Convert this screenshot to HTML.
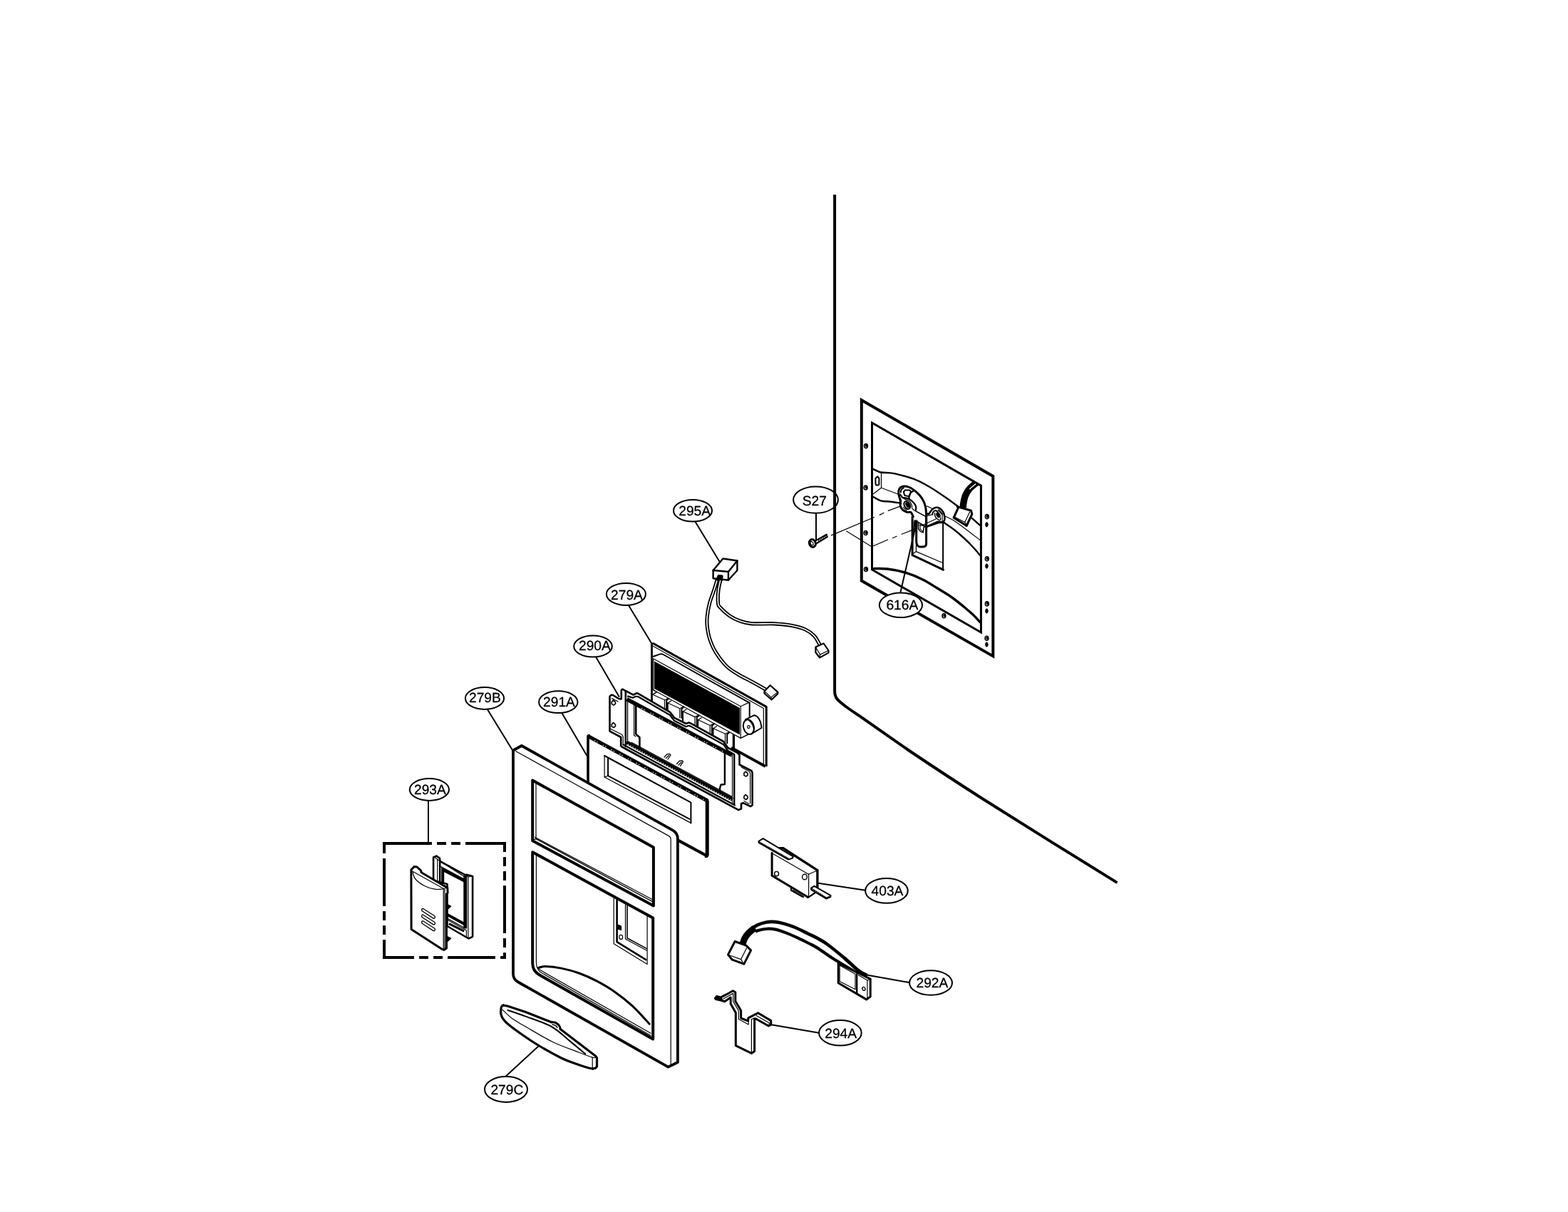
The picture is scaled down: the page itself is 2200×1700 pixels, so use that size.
<!DOCTYPE html>
<html lang="en">
<head>
<meta charset="utf-8">
<title>Dispenser Parts Diagram</title>
<style>
html,body{margin:0;padding:0;background:#fff;}
body{width:2200px;height:1700px;overflow:hidden;}
svg{display:block;will-change:transform;}
svg text{font-family:"Liberation Sans",sans-serif;font-size:19.2px;text-rendering:geometricPrecision;}
</style>
</head>
<body>
<svg width="2200" height="1700" viewBox="0 0 2200 1700">
<rect width="2200" height="1700" fill="#fff"/>
<g fill="none" stroke="#000" stroke-linecap="round" stroke-linejoin="round">
<g id="p10_door">
<path d="M1171.1 273 V969 C1171.1 979 1175 982 1186 990.5 C1192 995 1199 999.5 1206.2 1004.4 C1229 1020.5 1252 1036.5 1275 1052.5 C1310 1076 1345 1099 1380 1121.2 C1442 1160.5 1505 1199.5 1567.5 1238.1" stroke-width="4" stroke-linecap="butt"/>
</g>
<g id="p20_housing">
<path d="M1208.8 561.2 L1393.3 668 L1393.3 920.4 L1208.8 814.6Z" stroke-width="4" stroke-linejoin="miter"/>
<path d="M1223.5 593 L1376.4 681.2 L1376.4 887 L1223.5 799Z" stroke-width="3" stroke-linejoin="miter"/>
<path d="M1370 677.2 C1369.7 677.5 1369.8 677.1 1368.1 678.6 C1366.4 680.1 1362.1 683.2 1359.8 686.1 C1357.4 689 1355.5 692.6 1354.1 696.1 C1352.8 699.6 1352.1 704.5 1351.6 707.2 C1351.2 710 1351.4 711.6 1351.4 712.5" stroke-width="9.4" stroke-linecap="butt"/>
<path d="M1368.8 679 C1368 679.6 1365.7 681.4 1364.4 682.5 C1363 683.6 1361.4 685.2 1360.8 685.8" stroke-width="1.5" stroke="#fff"/>
<path d="M1343.1 710.6 L1362.5 716.2 L1363.8 721.2 L1356.2 737.5 L1338.1 726.2 L1345 711.2Z" stroke-width="3" fill="#fff"/>
<path d="M1340 725.6 L1353.8 732.5 L1360.6 718.1" stroke-width="1.2"/>
<path d="M1353.8 732.5 L1356.2 736.9" stroke-width="1.2"/>
<path d="M1225 657.8 C1226.7 658.6 1231.5 661.5 1235.6 662.5 C1239.6 663.4 1244.6 662.7 1249.3 663.4 C1253.9 664 1258.1 664.9 1263.6 666.3 C1269.1 667.7 1276.6 669.8 1282.3 671.9 C1288 674.1 1292.6 676.5 1297.8 679.3 C1303 682.1 1308.2 685.4 1313.4 688.7 C1318.6 692.1 1323.9 695.7 1329 699.3 C1334.1 702.9 1341.4 708.4 1343.9 710.3" stroke-width="2.4"/>
<path d="M1225 696.7 C1226.7 697.6 1231.4 701.1 1235.6 702.3 C1239.7 703.5 1245.3 703.1 1249.9 703.7 C1254.5 704.2 1260.8 705.4 1263 705.7" stroke-width="2.4"/>
<path d="M1236.5 664.3 L1236.5 684.2 L1225 693" stroke-width="1.2"/>
<path d="M1236.5 684.2 L1260.5 693.3" stroke-width="1.2"/>
<path d="M1231.2 668.2 L1233.4 670.9 L1233.4 679.3 L1232.5 680.5 L1229.3 680.5 L1228.4 678.6 L1228.4 670.9Z" stroke-width="2"/>
<path d="M1166.4 750.9 L1226.5 725.5" stroke-width="1.2"/>
<path d="M1234.2 722.4 L1240 719.3" stroke-width="1.2"/>
<path d="M1246.2 716.4 L1263.7 709.9" stroke-width="1.2"/>
<path d="M1187.7 745 L1223 766.8 L1245.7 757" stroke-width="1.2"/>
<path d="M1252.3 754.7 L1258 752.2" stroke-width="1.2"/>
<path d="M1265 749.3 L1282.5 742.4" stroke-width="1.2"/>
<path d="M1263.6 706.4 C1263.5 705.5 1263.4 703.3 1263 701.1 C1262.5 698.8 1261 695.5 1260.8 693 C1260.6 690.4 1260.8 687.6 1261.7 685.8 C1262.7 684 1264.3 682.7 1266.4 682.3 C1268.5 681.8 1271.5 682 1274.2 682.9 C1276.8 683.7 1279.5 685.3 1282.3 687.4 C1285.1 689.5 1288.7 692.7 1291 695.5 C1293.3 698.2 1294.8 700.9 1296.1 703.7 C1297.4 706.5 1298.2 709.3 1298.8 712.3 C1299.3 715.3 1299.4 716.4 1299.6 721.6 C1299.7 726.8 1299.6 739.8 1299.6 743.4" stroke-width="3"/>
<path d="M1275.4 697.9 C1275.8 696.8 1276.9 692.6 1277.9 691.1 C1278.9 689.6 1280.8 689.3 1281.3 688.9" stroke-width="2"/>
<path d="M1267.9 689.9 L1269.8 687.4 L1276 687.4 L1278.2 689.5 L1275.1 696.4 L1269.2 694.8Z" stroke-width="2"/>
<path d="M1263.6 690.5 C1263.8 689.9 1264.1 687.8 1264.8 686.7 C1265.6 685.7 1267.4 684.7 1267.9 684.2" stroke-width="2"/>
<path d="M1263 693.6 L1266.1 697.9 L1276 699.2" stroke-width="2"/>
<path d="M1263.6 701.7 C1263.5 703 1262.8 707.5 1263.3 709.8 C1263.8 712.1 1265.1 713.9 1266.7 715.4 C1268.3 716.8 1271.1 718 1272.9 718.5 C1274.8 719 1276.5 717.5 1277.9 718.5 C1279.3 719.5 1280.8 723.7 1281.3 724.7" stroke-width="3"/>
<path d="M1266.1 697.9 C1267.5 698.3 1272.2 698.7 1274.8 699.8 C1277.4 701 1279.9 703 1281.6 704.8 C1283.4 706.6 1284.5 708.5 1285.1 710.4 C1285.6 712.3 1284.8 715.1 1284.8 716" stroke-width="2.2"/>
<path d="M1268.6 699.8 C1269.8 700.3 1274.3 701.5 1276 702.9 C1277.8 704.4 1278.5 706.9 1279.2 708.5 C1279.8 710.2 1279.3 711.7 1279.8 712.9 C1280.3 714 1281.9 715 1282.3 715.4" stroke-width="1.2"/>
<ellipse cx="1272.8" cy="708.5" rx="3.9" ry="5.9" stroke-width="2" transform="rotate(-28 1272.8 708.5)"/>
<ellipse cx="1273.5" cy="708.2" rx="1.7" ry="3.4" stroke-width="2" fill="#000" transform="rotate(-28 1273.5 708.2)"/>
<path d="M1267.3 711.6 L1271.7 716" stroke-width="1.2"/>
<path d="M1268.6 709.8 L1272.9 714.8" stroke-width="1.2"/>
<path d="M1282.3 715.4 L1297.8 724.1 L1308.4 721.6" stroke-width="1.2"/>
<path d="M1284.8 716.9 L1297.2 723.5" stroke-width="1.2"/>
<path d="M1300.3 709.8 L1308.4 713.5" stroke-width="1.2"/>
<path d="M1300 720.4 C1300.6 720.4 1302.2 721.2 1303.4 720.4 C1304.6 719.5 1305.7 716.8 1307.2 715.4 C1308.6 714 1310.4 712.4 1312.2 712 C1313.9 711.5 1315.9 711.5 1317.8 712.6 C1319.6 713.6 1322.1 716.2 1323.4 718.2 C1324.6 720.2 1325.1 722.7 1325.4 724.7 C1325.6 726.7 1325.5 729 1324.9 730.3 C1324.4 731.6 1322.6 732.1 1322.1 732.5" stroke-width="2.5"/>
<path d="M1308.4 721.6 C1308.5 721.1 1308.3 719.4 1309 718.5 C1309.8 717.6 1311.6 716 1312.8 716 C1313.9 716 1315.4 718.1 1315.9 718.5" stroke-width="2"/>
<ellipse cx="1316.5" cy="722.5" rx="1.9" ry="3.1" stroke-width="2" fill="#000" transform="rotate(-28 1316.5 722.5)"/>
<path d="M1311.5 719.7 C1311.6 720.6 1311.4 723.3 1312.2 724.7 C1312.9 726.2 1314.7 727.6 1315.9 728.5 C1317 729.3 1318.4 730 1319 729.7 C1319.6 729.4 1319.5 727.1 1319.6 726.6" stroke-width="1.5"/>
<path d="M1315.9 715.4 L1322.1 722.2 L1322.1 730.9" stroke-width="1.2"/>
<path d="M1317.1 714.8 L1322.7 721" stroke-width="1.2"/>
<path d="M1322.1 732.5 L1315.9 731.6 L1300.3 738.7 L1297.8 737.8" stroke-width="2.4"/>
<path d="M1298.8 724.7 L1298.8 737.2" stroke-width="1.2"/>
<path d="M1295.3 736.2 L1313.4 727.8" stroke-width="1.2"/>
<path d="M1286 730.9 L1297.8 737.8" stroke-width="1.2"/>
<path d="M1324 732.8 C1326.7 734.7 1334.7 739.8 1340 744 C1345.3 748.2 1351.3 753.6 1356 758 C1360.7 762.4 1364.8 767 1368 770.5 C1371.2 774 1373.8 777.6 1375 779" stroke-width="2.4"/>
<path d="M1325 723.5 C1327.2 724.6 1333.8 727.5 1338.3 730.3 C1342.8 733 1345.9 735.5 1352 740 C1358.1 744.5 1371.2 754.6 1375 757.5" stroke-width="1.2"/>
<path d="M1280.1 725 L1280.1 778.6 L1323.4 799.1" stroke-width="3" stroke-linejoin="miter"/>
<path d="M1323.1 733.1 L1323.1 799.7" stroke-width="2"/>
<path d="M1284.9 729.4 L1284.9 739.3" stroke-width="5" stroke-linecap="butt"/>
<path d="M1282.9 732.5 L1281.3 750.5" stroke-width="1.5"/>
<path d="M1285.4 764.9 L1285.4 773.6 L1322.1 789.2" stroke-width="1.2"/>
<path d="M1285.4 773.6 L1281 776.7" stroke-width="1.2"/>
<path d="M1285.7 739.3 L1285.7 759.9 C1286 764.9 1287.9 766.7 1290.4 766.9 L1296 766.9 C1298.5 766.4 1299.6 764.9 1299.6 763 L1299.6 723.8" stroke-width="3"/>
<path d="M1288.5 733.7 L1288.5 741.8 L1291.6 745.6 L1295.3 746.8 L1296.3 737.5 L1290.4 736.2" stroke-width="1.5"/>
<path d="M1291 736.2 L1291 741.8 L1294.7 745.6" stroke-width="1.2"/>
<path d="M1287.2 731.9 L1297.2 738.1" stroke-width="1.2"/>
<path d="M1298.8 726.3 L1298.8 736.2" stroke-width="1.2"/>
<path d="M1297.8 738.7 L1300.9 738.7 L1317.1 733.1 L1324.6 733.1" stroke-width="2.4"/>
<path d="M1225 797.6 C1228.3 797.7 1237.5 797.1 1245 798 C1252.5 798.9 1261.5 800.5 1269.8 803 C1278.1 805.5 1287.2 809.3 1294.7 813 C1302.2 816.7 1308.3 820.9 1315 825 C1321.7 829.1 1328.8 833.1 1335 837.5 C1341.2 841.9 1347.5 847.1 1352.5 851.2 C1357.5 855.3 1361.2 858.5 1365 862 C1368.8 865.5 1373.3 870.8 1375 872.5" stroke-width="3.4"/>
<path d="M1363.8 726.9 L1375 736.9" stroke-width="2.4"/>
<ellipse cx="1215" cy="625.6" rx="2.4" ry="3" stroke-width="1.6"/>
<ellipse cx="1215.5" cy="625.3" rx="1.2" ry="1.5" stroke-width="1" fill="#000"/>
<ellipse cx="1214.6" cy="684" rx="2.4" ry="3" stroke-width="1.6"/>
<ellipse cx="1215.1" cy="683.7" rx="1.2" ry="1.5" stroke-width="1" fill="#000"/>
<ellipse cx="1214.6" cy="747.5" rx="2.4" ry="3" stroke-width="1.6"/>
<ellipse cx="1215.1" cy="747.2" rx="1.2" ry="1.5" stroke-width="1" fill="#000"/>
<ellipse cx="1215" cy="798.5" rx="2.4" ry="3" stroke-width="1.6"/>
<ellipse cx="1215.5" cy="798.2" rx="1.2" ry="1.5" stroke-width="1" fill="#000"/>
<ellipse cx="1324.4" cy="863.8" rx="2.4" ry="3" stroke-width="1.6"/>
<ellipse cx="1324.9" cy="863.5" rx="1.2" ry="1.5" stroke-width="1" fill="#000"/>
<ellipse cx="1384.8" cy="724.6" rx="2.4" ry="3" stroke-width="1.6"/>
<ellipse cx="1385.3" cy="724.3" rx="1.2" ry="1.5" stroke-width="1" fill="#000"/>
<ellipse cx="1384.8" cy="783.8" rx="2.4" ry="3" stroke-width="1.6"/>
<ellipse cx="1385.3" cy="783.5" rx="1.2" ry="1.5" stroke-width="1" fill="#000"/>
<ellipse cx="1384.8" cy="846.9" rx="2.4" ry="3" stroke-width="1.6"/>
<ellipse cx="1385.3" cy="846.6" rx="1.2" ry="1.5" stroke-width="1" fill="#000"/>
<ellipse cx="1384.5" cy="895.2" rx="2.4" ry="3" stroke-width="1.6"/>
<ellipse cx="1385" cy="894.9" rx="1.2" ry="1.5" stroke-width="1" fill="#000"/>
<ellipse cx="1384.4" cy="735.8" rx="1.7" ry="3.2" stroke-width="1" fill="#000"/>
<ellipse cx="1384.4" cy="794" rx="1.7" ry="3.2" stroke-width="1" fill="#000"/>
<ellipse cx="1384.4" cy="857" rx="1.7" ry="3.2" stroke-width="1" fill="#000"/>
<ellipse cx="1384.4" cy="904" rx="1.7" ry="3.2" stroke-width="1" fill="#000"/>
</g>
<g id="p30_screw">
<ellipse cx="1139.9" cy="762" rx="4.4" ry="5.5" stroke-width="3" transform="rotate(-20 1139.9 762)"/>
<ellipse cx="1139.1" cy="762.2" rx="1.7" ry="2.8" stroke-width="1.2" transform="rotate(-25 1139.1 762.2)"/>
<path d="M1144.8 758.1 L1159.8 749.7" stroke-width="2.2"/>
<path d="M1146.4 761.8 L1160.7 753.1" stroke-width="2.2"/>
<path d="M1159.8 749.7 L1160.7 753.1" stroke-width="1.5"/>
<path d="M1147.9 756.6 L1149.3 759.7" stroke-width="1.3"/>
<path d="M1150.2 755.2 L1151.6 758.4" stroke-width="1.3"/>
<path d="M1152.4 753.9 L1153.8 757" stroke-width="1.3"/>
<path d="M1154.7 752.6 L1156 755.7" stroke-width="1.3"/>
<path d="M1156.9 751.3 L1158.3 754.4" stroke-width="1.3"/>
<path d="M1159.2 750 L1160.5 753.1" stroke-width="1.3"/>
</g>
<g id="p40_harness295">
<path d="M1006.9 811 C1006.1 813.8 1003.8 821.6 1001.9 827.5 C1000 833.4 997.2 840 995.6 846.2 C994 852.5 992.7 859.4 992.2 865 C991.7 870.6 991.7 874.6 992.4 880 C993.1 885.4 994.1 891.5 996.2 897.5 C998.3 903.5 1001 910 1005 916.2 C1009 922.5 1014.8 930 1020 935 C1025.2 940 1030.4 942.7 1036.2 946.2 C1042 949.7 1048.5 952.7 1055 956.2 C1061.5 959.8 1071.7 965.6 1075 967.5" stroke-width="5.2" stroke-linecap="butt"/>
<path d="M1006.9 811 C1006.1 813.8 1003.8 821.6 1001.9 827.5 C1000 833.4 997.2 840 995.6 846.2 C994 852.5 992.7 859.4 992.2 865 C991.7 870.6 991.7 874.6 992.4 880 C993.1 885.4 994.1 891.5 996.2 897.5 C998.3 903.5 1001 910 1005 916.2 C1009 922.5 1014.8 930 1020 935 C1025.2 940 1030.4 942.7 1036.2 946.2 C1042 949.7 1048.5 952.7 1055 956.2 C1061.5 959.8 1071.7 965.6 1075 967.5" stroke-width="1.6" stroke-linecap="butt" stroke="#fff"/>
<path d="M1011.5 811 C1010.9 813.8 1008.7 821.6 1008 827.5 C1007.3 833.4 1007.1 842.1 1007.5 846.2 C1007.9 850.3 1007.8 849.1 1010.5 852 C1013.2 854.9 1019.1 860.6 1023.8 863.8 C1028.5 867 1033.6 869.4 1038.8 871.2 C1044 873 1047.1 874.2 1055 874.8 C1062.9 875.4 1076.8 874.3 1086.2 874.8 C1095.6 875.2 1103.9 876.1 1111.2 877.5 C1118.5 878.9 1124.8 880.6 1130 883 C1135.2 885.4 1139.1 888.3 1142.5 892 C1145.9 895.7 1149.2 902.8 1150.5 905" stroke-width="5.2" stroke-linecap="butt"/>
<path d="M1011.5 811 C1010.9 813.8 1008.7 821.6 1008 827.5 C1007.3 833.4 1007.1 842.1 1007.5 846.2 C1007.9 850.3 1007.8 849.1 1010.5 852 C1013.2 854.9 1019.1 860.6 1023.8 863.8 C1028.5 867 1033.6 869.4 1038.8 871.2 C1044 873 1047.1 874.2 1055 874.8 C1062.9 875.4 1076.8 874.3 1086.2 874.8 C1095.6 875.2 1103.9 876.1 1111.2 877.5 C1118.5 878.9 1124.8 880.6 1130 883 C1135.2 885.4 1139.1 888.3 1142.5 892 C1145.9 895.7 1149.2 902.8 1150.5 905" stroke-width="1.6" stroke-linecap="butt" stroke="#fff"/>
<path d="M1000.6 800 L1014.4 783.5 L1034.4 786.5 L1034.4 800 L1021.9 813.8 L1000.6 811.2Z" stroke-width="2.4" fill="#fff"/>
<path d="M1000.6 800 L1021.9 801.9 L1021.9 813.8" stroke-width="2.4"/>
<path d="M1021.9 801.9 L1034.4 786.5" stroke-width="2.4"/>
<path d="M1006.2 813.1 L1008.1 807.5 L1013.1 808.1 L1012.5 813.8" stroke-width="3" fill="#000"/>
<path d="M1072.5 969.4 L1080.6 961.2 L1091.2 970.6 L1091.2 973.1 L1082.5 981.5 L1072.5 972.5Z" stroke-width="2.2" fill="#fff"/>
<path d="M1072.5 969.4 L1081.9 978.1 L1091.2 970.6" stroke-width="1.2"/>
<path d="M1081.9 978.1 L1082.5 981.5" stroke-width="1.2"/>
<path d="M1144.4 907.5 L1155.6 902.5 L1162.5 912.5 L1162.5 915.6 L1150 922.5 L1144.4 915Z" stroke-width="2.2" fill="#fff"/>
<path d="M1144.4 907.5 L1150.6 918.1 L1162.5 912.5" stroke-width="1.2"/>
<path d="M1150.6 918.1 L1150 922.5" stroke-width="1.2"/>
</g>
<g id="p50_pcb279a">
<path d="M914.5 903 L1075.2 991.4 L1075.2 1074.5 L914.5 985Z" stroke="none" fill="#fff"/>
<path d="M914.5 984 L914.5 904.5 Q914.5 902.2 917 902.6" stroke-width="2.8" stroke-linecap="butt"/>
<path d="M916.5 902.5 L1075.2 991.4" stroke-width="3.1" stroke-linecap="butt"/>
<path d="M1075.2 990.5 L1075.2 1075" stroke-width="3" stroke-linecap="butt"/>
<path d="M916.3 906.3 L1071.3 993.6 L1071.3 1074" stroke-width="1.2"/>
<path d="M1074 1075 L1026 1048.6" stroke-width="3.8" stroke-linecap="butt"/>
<path d="M916.8 920.8 L925.6 917.6 Q928 916.6 930.5 918 L1050.8 985.4" stroke-width="2"/>
<path d="M916.8 924 L1039.2 990.8 L1050.8 985.4" stroke-width="1.2"/>
<path d="M916.8 924 L916.8 967.8 L1039.2 1035.4 L1039.2 990.8" stroke-width="1.2"/>
<path d="M1051.7 985.4 L1051.7 1008" stroke-width="2"/>
<path d="M1039.2 1035.4 L1050 1030" stroke-width="1.4"/>
<path d="M918.1 927.4 L1037.9 992.9 L1037.9 1030.4 L918.1 966Z" stroke="none" fill="#000"/>
<path d="M915.8 974.2 L932.5 981.8 L932.5 995" stroke-width="1.2"/>
<path d="M915.8 974.2 L920.4 971.2" stroke-width="1.2"/>
<path d="M932.5 981.8 L938.2 979.2" stroke-width="1.2"/>
<path d="M938.2 979.7 L935.2 982.5 L935.2 995" stroke-width="2"/>
<path d="M937.1 986 L953.8 993.7 L953.8 1006.9" stroke-width="1.2"/>
<path d="M937.1 986 L941.7 983" stroke-width="1.2"/>
<path d="M953.8 993.7 L959.4 991" stroke-width="1.2"/>
<path d="M959.4 991.5 L956.4 994.4 L956.4 1006.9" stroke-width="2"/>
<path d="M936.8 986 L936.8 1006" stroke-width="2"/>
<path d="M958.3 997.9 L975 1005.6 L975 1018.8" stroke-width="1.2"/>
<path d="M958.3 997.9 L962.9 994.9" stroke-width="1.2"/>
<path d="M975 1005.6 L980.7 1002.9" stroke-width="1.2"/>
<path d="M980.7 1003.4 L977.7 1006.2 L977.7 1018.8" stroke-width="2"/>
<path d="M958 997.9 L958 1017.9" stroke-width="2"/>
<path d="M979.6 1009.8 L996.2 1017.5 L996.2 1030.6" stroke-width="1.2"/>
<path d="M979.6 1009.8 L984.2 1006.8" stroke-width="1.2"/>
<path d="M996.2 1017.5 L1001.9 1014.8" stroke-width="1.2"/>
<path d="M1001.9 1015.3 L998.9 1018.1 L998.9 1030.6" stroke-width="2"/>
<path d="M979.2 1009.8 L979.2 1029.8" stroke-width="2"/>
<path d="M1000.8 1021.7 L1017.5 1029.3 L1017.5 1042.5" stroke-width="1.2"/>
<path d="M1000.8 1021.7 L1005.4 1018.7" stroke-width="1.2"/>
<path d="M1017.5 1029.3 L1023.2 1026.7" stroke-width="1.2"/>
<path d="M1023.2 1027.2 L1020.2 1030 L1020.2 1042.5" stroke-width="2"/>
<path d="M1000.5 1021.7 L1000.5 1041.7" stroke-width="2"/>
<path d="M1028.3 1030 L1028.3 1050.8" stroke-width="1.2"/>
<path d="M1030 1031.7 L1030 1050.8" stroke-width="2"/>
<path d="M915.8 967.5 L921.7 970.8 L917.5 972.9" stroke-width="1.2"/>
<path d="M1045.8 1009.3 L1058.2 1003.2 C1062.9 1003.8 1067.9 1010 1068.5 1021 L1054.2 1029.4" stroke-width="2" fill="#fff"/>
<ellipse cx="1050.4" cy="1019.6" rx="7.3" ry="10.5" stroke-width="2" fill="#fff" transform="rotate(-14 1050.4 1019.6)"/>
<path d="M1050.4 1010.2 C1055.4 1013.8 1058.5 1020.8 1057.5 1027.3" stroke-width="1.2"/>
<ellipse cx="1050.4" cy="1019.6" rx="1.7" ry="2" stroke-width="1.2"/>
</g>
<g id="p55_frame290a">
<path d="M855.5 976.8 L857.5 974.8 L860 975 L868 980 L871.8 980.5 L871.8 968.2 L873.3 966.6 L888.6 974.6 L893 972.3 L895 972.6 L940 998.8 L946.2 1006.9 L962.5 1015 L966.2 1013.6 L968.8 1014.4 L1015 1040 L1021.2 1048.8 L1035 1056.2 L1037.5 1058.8 L1037.5 1072.5 L1054.5 1081.2 L1055.6 1084 L1055.6 1129.5 L1053 1131.2 L1042.5 1126.2 L1040 1127.5 L1040 1134.4 L1036.2 1136.2 L872.5 1047.5 L871.2 1046.2 L871.2 1034 L855.5 1025.6Z" stroke-width="2.6" fill="#fff"/>
<path d="M881 976.6 L888 978.8 L892 976.8 L895 977 L940 1003 L946.2 1011.1 L962.5 1019.2 L966.2 1017.8 L968.8 1018.6 L1015 1044.2 L1021.2 1053 L1030 1058" stroke-width="2.2"/>
<path d="M858.5 979.6 L867 984" stroke-width="1.2"/>
<path d="M857 1022.5 L872.8 1030.5 L874.2 1033.5 L874.2 1045" stroke-width="1.2"/>
<path d="M1040 1076 L1051.5 1082.3 L1052.6 1085 L1052.6 1127" stroke-width="1.2"/>
<path d="M1044 1123.6 L1050.8 1127.4" stroke-width="1.2"/>
<path d="M877.8 969.5 L877.8 1047" stroke-width="2.6"/>
<path d="M880.6 981.5 L880.6 1040" stroke-width="1.2"/>
<path d="M889.6 986 L889.6 1031.6 L892 1033" stroke-width="1.2"/>
<path d="M892.2 990 L892.2 1029.8 L897.4 1034.2 L897.4 1049" stroke-width="2.6"/>
<path d="M879.5 980.8 L1027.5 1059.6" stroke-width="5.6" stroke-linecap="butt"/>
<path d="M900 993.2 L1027.5 1061" stroke-width="1.1" stroke-linecap="butt" stroke="#fff" stroke-dasharray="1.5 2.2 1.5 9"/>
<path d="M1016.9 1053.5 L1016.9 1100 L1011.4 1100.8 L1010 1105.8 L1010 1110" stroke-width="2.4"/>
<path d="M1027.5 1058.8 L1027.5 1126" stroke-width="1.2"/>
<path d="M1030.2 1058.8 L1030.2 1128" stroke-width="2.4"/>
<path d="M879 1041 L1027.5 1121.4" stroke-width="5.2" stroke-linecap="butt"/>
<path d="M881 1044 L1027.5 1123.4" stroke-width="1.1" stroke-linecap="butt" stroke="#fff" stroke-dasharray="1.5 2.2"/>
<path d="M879 1046.8 L1028 1127.4" stroke-width="1.2"/>
<path d="M886 1041.2 L1027 1117.4" stroke-width="1.2"/>
<path d="M874.5 1044.5 L1031 1129.6" stroke-width="2"/>
<path d="M860.6 982.2 L863.5 984.8 L863.5 987.2 L861.2 989 L858.3 987.6 L858.3 984.4Z" stroke-width="1.6"/>
<path d="M860.6 1013.7 L863.5 1016.3 L863.5 1018.7 L861.2 1020.5 L858.3 1019.1 L858.3 1015.9Z" stroke-width="1.6"/>
<path d="M1046.2 1082.2 L1049.1 1084.8 L1049.1 1087.2 L1046.8 1089 L1043.9 1087.6 L1043.9 1084.4Z" stroke-width="1.6"/>
<path d="M1046.2 1114.7 L1049.1 1117.3 L1049.1 1119.7 L1046.8 1121.5 L1043.9 1120.1 L1043.9 1116.9Z" stroke-width="1.6"/>
<path d="M932 1062 L936 1057.8 L939.5 1057.4 L941 1059 L937 1065" stroke-width="1.3"/>
<path d="M934.5 1063.5 L938.5 1059.5" stroke-width="1.3"/>
<path d="M949.5 1071.5 L953.5 1067.2 L957 1066.8 L958.5 1068.4 L954.5 1074.4" stroke-width="1.3"/>
<path d="M952 1073 L956 1069" stroke-width="1.3"/>
</g>
<g id="p60_panel291a">
<path d="M825 1031.9 L992.2 1122.5 L992.2 1200.6 L825 1110Z" stroke="none" fill="#fff"/>
<path d="M825 1112 L825 1033.5 Q825 1031 827.5 1032" stroke-width="3.6" stroke-linecap="butt"/>
<path d="M826 1033 L993 1123.4" stroke-width="5.4" stroke-linecap="butt"/>
<path d="M834 1038.6 L990 1123" stroke-width="1.1" stroke-linecap="butt" stroke="#fff" stroke-dasharray="1.5 2.3 1.5 8"/>
<path d="M992.2 1122.4 L992.2 1199 Q992.2 1201.5 989.5 1200.2" stroke-width="5" stroke-linecap="butt"/>
<path d="M992.8 1201 L950 1177.8" stroke-width="4.2" stroke-linecap="butt"/>
<path d="M848.1 1060 L969.4 1125.6 L969.4 1154.4" stroke-width="2"/>
<path d="M848.1 1060 L848.1 1090 L969.4 1154.4" stroke-width="1.2"/>
<path d="M853.1 1063.5 L853.1 1088.1 L967.5 1148.8" stroke-width="2"/>
<path d="M848.1 1090 L853.1 1088.1" stroke-width="1.2"/>
</g>
<g id="p65_cover279b">
<path d="M720 1052.5 L731.9 1046 L945 1165 Q950.9 1168.5 950.9 1176 L950.9 1490 L937.5 1496.6 L726 1377 Q720 1373.5 720 1367Z" stroke="none" fill="#fff"/>
<path d="M720 1052.5 L720 1366 Q720 1373.5 727 1377.5 L937.5 1496.6 L950.9 1490 L950.9 1177 Q950.9 1168.6 944 1164.6 L731.9 1046 L720 1052.5Z" stroke-width="3.8"/>
<path d="M723.8 1053.8 L938.5 1172.6 Q941.2 1174.2 941.2 1178 L941.2 1494.5" stroke-width="1.2"/>
<path d="M747.2 1094.6 L916.9 1188.6 L916.9 1270.4 L747.2 1179.2Z" stroke-width="4"/>
<path d="M752 1098 L752 1176.6 L915 1264.4" stroke-width="1.2"/>
<path d="M749.5 1177.6 L752 1176.6" stroke-width="1.2"/>
<path d="M750.5 1174.4 L915 1261.5" stroke-width="1.2"/>
<path d="M747.2 1195.2 L916.2 1287.6 L916.2 1457.6 L757 1367.5 Q747.2 1362 747.2 1351Z" stroke-width="4"/>
<path d="M752.4 1200 L752.4 1350 Q752.6 1360.5 760 1364.6 L913 1452.6" stroke-width="1.2"/>
<path d="M754 1357 Q755.6 1359.6 760 1361.8 L913 1449.2" stroke-width="1.2"/>
<path d="M755.6 1357.5 C757.2 1357.2 759.7 1355.5 765 1355.6 C770.3 1355.7 779.6 1356.5 787.5 1358.1 C795.4 1359.7 804.2 1362 812.5 1365 C820.8 1368 829.2 1371.8 837.5 1376.2 C845.8 1380.6 854.2 1385.4 862.5 1391.2 C870.8 1397 879.4 1403.7 887.5 1411.2 C895.6 1418.7 907.2 1432 911.2 1436.2" stroke-width="3"/>
<path d="M861.2 1260 L861.2 1323.8 L908.1 1352.5 L908.1 1283" stroke-width="1.2"/>
<path d="M865.6 1262.5 L865.6 1321.2 L906.2 1346.2" stroke-width="2.6"/>
<path d="M877.5 1269 L877.5 1317 L907.5 1333.2" stroke-width="1.2"/>
<path d="M880 1270.5 L880 1315.8 L907.5 1330.6" stroke-width="1.6"/>
<path d="M866.5 1297 L871.5 1299 L871.5 1304.5 L866.5 1303Z" stroke-width="1.2" fill="#000"/>
<ellipse cx="871.2" cy="1314.4" rx="2.4" ry="3" stroke-width="1.2"/>
</g>
<g id="p70_tray279c">
<path d="M831.9 1499 C830.7 1498.8 829.3 1499 825 1497.8 C820.7 1496.5 812.5 1493.8 806.2 1491.5 C800 1489.2 795.6 1488 787.5 1484 C779.4 1480 766.9 1473.1 757.5 1467.5 C748.1 1461.9 738.8 1455.5 731.2 1450.2 C723.8 1445 716.8 1439.8 712.5 1436.2 C708.2 1432.7 707.2 1430.9 705.6 1428.8 C704.1 1426.6 703.6 1425.2 703.1 1423.1 C702.6 1421 702.6 1418.1 702.8 1416.2 C702.9 1414.4 703.2 1412.9 703.8 1411.9 C704.3 1410.8 705.8 1410.3 706.2 1410" stroke-width="3.2"/>
<path d="M706.2 1410 L712.5 1411.2 L737.5 1419.6 L773.8 1433.8" stroke-width="3.2"/>
<path d="M773.8 1433.8 C774.5 1433.8 776.7 1433.5 778.1 1434 C779.6 1434.5 781.3 1435.5 782.5 1436.5 C783.7 1437.5 784.6 1438.6 785.2 1439.8 C785.9 1440.9 786.1 1442.9 786.2 1443.5" stroke-width="3"/>
<path d="M786.2 1443.5 L836 1481.6 L837.5 1483.8 L837.5 1496 L835.6 1498.1 L831.9 1499" stroke-width="3.2"/>
<path d="M712.5 1416.9 C716.7 1418.3 727.3 1421.8 737.5 1425.6 C747.7 1429.5 763.3 1434.2 773.8 1440 C784.2 1445.8 792.1 1454.3 800 1460.6 C807.9 1467 817.7 1475.2 821.2 1478.1" stroke-width="2"/>
<path d="M705 1416.2 C707.3 1418.3 713.3 1424.8 718.8 1428.8 C724.2 1432.7 728.1 1434.6 737.5 1440 C746.9 1445.4 762.5 1455.2 775 1461.2 C787.5 1467.3 803.1 1472.6 812.5 1476.2 C821.9 1479.9 827.3 1482 831.2 1483.1 C835.2 1484.2 835.4 1482.8 836.2 1482.8" stroke-width="1.2"/>
<path d="M831.2 1483.5 L831.2 1497.5" stroke-width="1.2"/>
<path d="M775 1436.9 C775.8 1437.2 778.9 1438 780 1438.8 C781.1 1439.5 781.6 1440.8 781.9 1441.2" stroke-width="1.5"/>
</g>
<g id="p75_box293a">
<path d="M537.1 1183 L606 1183" stroke-width="4" stroke-linecap="butt"/>
<path d="M613.1 1183 L626 1183" stroke-width="4" stroke-linecap="butt"/>
<path d="M633.1 1183 L646 1183" stroke-width="4" stroke-linecap="butt"/>
<path d="M653.1 1183 L710 1183" stroke-width="4" stroke-linecap="butt"/>
<path d="M537.1 1343 L581 1343" stroke-width="4" stroke-linecap="butt"/>
<path d="M588.1 1343 L601 1343" stroke-width="4" stroke-linecap="butt"/>
<path d="M608.1 1343 L621 1343" stroke-width="4" stroke-linecap="butt"/>
<path d="M628.1 1343 L695 1343" stroke-width="4" stroke-linecap="butt"/>
<path d="M702.1 1343 L710 1343" stroke-width="4" stroke-linecap="butt"/>
<path d="M539.1 1181 L539.1 1196.9" stroke-width="4" stroke-linecap="butt"/>
<path d="M539.1 1204 L539.1 1271" stroke-width="4" stroke-linecap="butt"/>
<path d="M539.1 1278.1 L539.1 1291" stroke-width="4" stroke-linecap="butt"/>
<path d="M539.1 1298.1 L539.1 1311" stroke-width="4" stroke-linecap="butt"/>
<path d="M539.1 1318.1 L539.1 1345" stroke-width="4" stroke-linecap="butt"/>
<path d="M708 1181 L708 1195" stroke-width="4" stroke-linecap="butt"/>
<path d="M708 1202.1 L708 1215" stroke-width="4" stroke-linecap="butt"/>
<path d="M708 1222.1 L708 1235" stroke-width="4" stroke-linecap="butt"/>
<path d="M708 1242.1 L708 1309" stroke-width="4" stroke-linecap="butt"/>
<path d="M708 1316 L708 1329" stroke-width="4" stroke-linecap="butt"/>
<path d="M708 1336.2 L708 1345" stroke-width="4" stroke-linecap="butt"/>
<path d="M608.1 1202.5 L612.5 1200.6 L616.9 1203.8 L617.5 1208.1 L652.5 1227.2 L655 1226.9 L663.1 1229 L663.1 1313.8 L657.5 1316.5 L627.5 1299 L627.5 1240 L608.1 1235Z" stroke-width="2.6" fill="#fff"/>
<path d="M613.8 1205 L613.8 1236.9" stroke-width="1.2"/>
<path d="M617.2 1208.1 L617.2 1238.8" stroke-width="2.4"/>
<path d="M610.6 1203.1 L615 1206.2 L651.9 1230" stroke-width="1.2"/>
<path d="M616.2 1214.4 L651.2 1233.1" stroke-width="1.2"/>
<path d="M621.2 1240 L621.2 1220 L651.9 1235.6" stroke-width="4" stroke-linejoin="miter" stroke-linecap="butt"/>
<path d="M652.8 1228.1 L652.8 1302.5" stroke-width="5" stroke-linecap="butt"/>
<path d="M656.9 1230 L656.9 1315" stroke-width="1.2"/>
<path d="M654.4 1227.5 L656.9 1230 L663.1 1229" stroke-width="1.2"/>
<path d="M626.9 1282.5 L651.9 1296.2" stroke-width="4" stroke-linecap="butt"/>
<path d="M627.5 1288.1 L651.2 1301.2" stroke-width="1.2"/>
<path d="M627.5 1290 L654.4 1305 L654.4 1314.4" stroke-width="1.2"/>
<path d="M630 1295.6 L651.2 1306.2" stroke-width="3" stroke-linecap="butt"/>
<path d="M627.5 1268.8 L632.5 1271.2 L627.5 1275.6" stroke-width="1.5" fill="#000"/>
<path d="M627.5 1313.8 L632.5 1316.2 L627.5 1320.6" stroke-width="1.5" fill="#000"/>
<path d="M576.9 1220 L581.2 1215.6 L585 1216 L590.6 1221.2 L591.2 1223.8 L622.5 1242.2 L627.8 1245 L628.1 1252.5 L626.5 1254 L626.5 1330 L622.8 1332.5 L620 1331.2 L577.1 1303.5Z" stroke-width="3" fill="#fff"/>
<path d="M578.5 1221.9 L622.5 1246.5 L627.5 1245.2" stroke-width="1.2"/>
<path d="M622.2 1246.9 L622.2 1331.2" stroke-width="1.2"/>
<path d="M624 1247.5 L624 1330.6" stroke-width="1.2"/>
<path d="M579 1222.8 C579.6 1224.4 579.8 1229.2 582.5 1232.5 C585.2 1235.8 590.4 1239.8 595 1242.2 C599.6 1244.7 605.5 1246.5 610 1247.2 C614.5 1248 619.9 1247 621.9 1247" stroke-width="1.2"/>
<path d="M592.2 1274.5 L593.8 1274.5 L609.8 1284.8 L610.5 1286.2 L609.8 1288.1 L608.1 1288.1 L592.2 1277.8 L591.5 1276Z" stroke-width="1.3"/>
<path d="M592.2 1283.2 L593.8 1283.2 L609.8 1293.5 L610.5 1295 L609.8 1296.9 L608.1 1296.9 L592.2 1286.5 L591.5 1284.8Z" stroke-width="1.3"/>
<path d="M592.2 1292 L593.8 1292 L609.8 1302.2 L610.5 1303.8 L609.8 1305.6 L608.1 1305.6 L592.2 1295.2 L591.5 1293.5Z" stroke-width="1.3"/>
</g>
<g id="p80_switch403a">
<path d="M1083.1 1196.2 L1098.8 1189.8 L1146.9 1220.6 L1146.9 1250 L1134.4 1258.1 L1083.1 1228.1Z" stroke="none" fill="#fff"/>
<path d="M1083.1 1196.2 L1083.1 1228.1 L1133.8 1258.5" stroke-width="3" stroke-linejoin="miter"/>
<path d="M1093.8 1189.8 L1098.8 1189.8 L1146.9 1220.6 L1146.9 1250" stroke-width="3.4" stroke-linejoin="miter"/>
<path d="M1146.9 1250 L1135 1258.1 L1132.5 1258.8" stroke-width="2.2"/>
<path d="M1084 1197.2 L1134.4 1226.2 L1146.2 1221.2" stroke-width="1.2"/>
<path d="M1134.6 1226.2 L1134.6 1257.5" stroke-width="1.2"/>
<ellipse cx="1089.6" cy="1225.6" rx="3" ry="3.2" stroke-width="1.4"/>
<ellipse cx="1129" cy="1230" rx="3.4" ry="3.8" stroke-width="1.4"/>
<path d="M1110 1246.2 L1110 1248.8 L1125 1257.5 L1127.5 1258.1" stroke-width="2"/>
<path d="M1112.5 1248.5 L1126.2 1256.5" stroke-width="1.2"/>
<path d="M1064.4 1180 L1070.6 1176.2 L1112.8 1201.5 L1112.2 1203.5 L1106.2 1205.6 L1064.8 1182.2Z" stroke-width="2" fill="#fff"/>
<path d="M1065.6 1181 L1106.2 1204" stroke-width="1.2" stroke-dasharray="2 1.2"/>
<path d="M1138.1 1245.6 L1142.5 1242.8 L1165.6 1256.2 L1165.2 1258.1 L1159.4 1260.6 L1138.1 1247.8Z" stroke-width="2" fill="#fff"/>
<path d="M1139.4 1246.5 L1159.4 1259 L1165 1256.9" stroke-width="1.2" stroke-dasharray="2 1.2"/>
</g>
<g id="p82_harness292a">
<path d="M1044.9 1315.6 C1046.1 1313.8 1049.2 1307.9 1052.2 1304.9 C1055.2 1301.8 1059 1299.3 1062.9 1297.4 C1066.7 1295.5 1071.2 1294.1 1075.4 1293.4 C1079.5 1292.7 1083.6 1292.8 1087.8 1293.1 C1091.9 1293.5 1095.6 1294.3 1100.2 1295.6 C1104.9 1296.9 1110.2 1298.6 1115.9 1301 C1121.6 1303.4 1129.5 1307.6 1134.5 1310 C1139.5 1312.4 1141.8 1313.3 1146 1315.6 C1150.2 1318 1153.5 1319.3 1160 1324 C1166.5 1328.7 1177.5 1337.7 1185 1344 C1192.5 1350.3 1199.8 1357.9 1205 1361.9 C1210.2 1365.9 1214.4 1367.1 1216.2 1368.1" stroke-width="4.6" stroke-linecap="butt"/>
<path d="M1060 1306.9 C1060.7 1306.5 1061.6 1305.6 1064.1 1304.9 C1066.7 1304.2 1071.4 1303 1075.4 1302.8 C1079.3 1302.5 1083.1 1302.6 1087.8 1303.6 C1092.4 1304.6 1097.7 1306.4 1103.4 1308.6 C1109.1 1310.8 1116.8 1314.4 1122 1316.8 C1127.2 1319.1 1130.5 1320.9 1134.5 1323 C1138.5 1325.1 1140.7 1325.8 1146 1329.1 C1151.3 1332.4 1159.8 1338.5 1166.2 1342.8 C1172.8 1347 1179.8 1351.2 1185 1354.4 C1190.2 1357.6 1195.4 1360.6 1197.5 1361.9" stroke-width="4.2" stroke-linecap="butt"/>
<path d="M1041.5 1326 C1042.1 1324.4 1043.4 1319.1 1044.9 1316.2 C1046.4 1313.4 1048 1311.2 1050.4 1308.8 C1052.7 1306.3 1057.6 1302.7 1059 1301.5" stroke-width="9.2" stroke-linecap="butt"/>
<path d="M1165 1338.8 C1166.9 1339.7 1172.9 1342.8 1176.2 1344.4 C1179.6 1346 1183.5 1347.8 1185 1348.5" stroke-width="1.2" stroke="#fff"/>
<path d="M1031.1 1320.5 L1046.8 1326.1 L1053.6 1332.9 L1043.9 1352.2 L1027.4 1346.2 L1021.5 1339.1Z" stroke-width="3" fill="#fff"/>
<path d="M1023.8 1340 L1039.6 1345.6 L1047.5 1330" stroke-width="1.2"/>
<path d="M1039.6 1345.6 L1041.9 1349.4" stroke-width="1.2"/>
<path d="M1176.2 1351.2 L1221.2 1373.1 L1221.2 1398.1 L1215.6 1401.9 L1176.2 1378.8Z" stroke-width="3" fill="#fff"/>
<path d="M1178.1 1354 L1200 1366.2 L1200 1387.8 L1178.1 1376.5Z" stroke-width="1.2"/>
<path d="M1202.2 1366.2 L1202.2 1393.1" stroke-width="2.4"/>
<path d="M1204.4 1367.8 L1216.9 1375 L1216.9 1400.6" stroke-width="1.2"/>
<path d="M1216.9 1375 L1221 1373.5" stroke-width="1.2"/>
<ellipse cx="1211.9" cy="1386.9" rx="2" ry="2.5" stroke-width="1.4" transform="rotate(-20 1211.9 1386.9)"/>
<path d="M1185 1344 C1188.3 1347 1199.8 1357.9 1205 1361.9 C1210.2 1365.9 1214.4 1367.1 1216.2 1368.1" stroke-width="4.6" stroke-linecap="butt"/>
</g>
<g id="p84_bracket294a">
<path d="M1003.4 1400.2 L1005.6 1397.4 L1011.2 1399 L1020.5 1394.2 L1028.3 1389.7 L1031.8 1391.7 L1031.8 1404.3 L1039.6 1417.4 L1039.6 1428.1 L1049.5 1432 L1049.9 1427.8 L1063.5 1420.8 L1081.7 1431.6 L1081.7 1437.3 L1078.3 1439 L1060 1428.7 L1058.6 1429.3 L1058.6 1474.6 L1054.4 1477.4 L1032.3 1466.6 L1032.3 1420.5 L1025.2 1408 L1025.2 1399 L1016.8 1404.8 L1011.2 1403 L1004.3 1401.5Z" stroke-width="3" fill="#fff"/>
<path d="M1003.8 1400.2 L1005.7 1397.6 L1011.3 1399 L1012.9 1401.5 L1011.2 1402.9 L1004.4 1401.3Z" stroke-width="2" fill="#000"/>
<path d="M1014.9 1401 L1028.7 1393.4 L1028.7 1404.6 L1036.4 1418 L1036.4 1429.5 L1050.1 1437 L1050.3 1432.9" stroke-width="1.2"/>
<path d="M1054.4 1429.8 L1054.4 1476.2" stroke-width="1.2"/>
<path d="M1054.4 1429.8 L1058.5 1427.9" stroke-width="1.2"/>
<path d="M1061.6 1424.7 L1079.2 1434.8 L1079.2 1438.5" stroke-width="1.2"/>
</g>
<g id="p90_labels">
<path d="M975.6 732 L1010 788.5" stroke-width="2"/>
<path d="M1145 720 L1145 757" stroke-width="2"/>
<path d="M882.2 849.5 L915 903.8" stroke-width="2"/>
<path d="M836.4 922 L868.5 977" stroke-width="2"/>
<path d="M1263.6 830 L1284.8 738" stroke-width="2"/>
<path d="M684.2 995.5 L719.5 1053" stroke-width="2"/>
<path d="M788.6 1000.5 L823.5 1060" stroke-width="2"/>
<path d="M601 1123.5 L601 1182" stroke-width="2"/>
<path d="M709.8 1509.5 L756.5 1466.5" stroke-width="2"/>
<path d="M1214 1248.8 L1148 1238.8" stroke-width="2"/>
<path d="M1275.5 1378.1 L1216 1367.6" stroke-width="2"/>
<path d="M1149 1448.8 L1082 1437.3" stroke-width="2"/>
<ellipse cx="972" cy="716.2" rx="27" ry="15.3" stroke-width="2" fill="#fff"/>
<text x="974.7" y="723.1" fill="#000" stroke-width="0.3" text-anchor="middle">295A</text>
<ellipse cx="1144.5" cy="701.1" rx="31.4" ry="18.6" stroke-width="2"/>
<text x="1142.8" y="708.9" fill="#000" stroke-width="0.3" text-anchor="middle">S27</text>
<ellipse cx="878.4" cy="833.4" rx="27.5" ry="15.5" stroke-width="2" fill="#fff"/>
<text x="879.5" y="840.7" fill="#000" stroke-width="0.3" text-anchor="middle">279A</text>
<ellipse cx="832" cy="906.5" rx="26.8" ry="15.1" stroke-width="2" fill="#fff"/>
<text x="834.4" y="911.7" fill="#000" stroke-width="0.3" text-anchor="middle">290A</text>
<ellipse cx="1263.9" cy="848.7" rx="30.1" ry="17.3" stroke-width="2" fill="#fff"/>
<text x="1265.8" y="854.9" fill="#000" stroke-width="0.3" text-anchor="middle">616A</text>
<ellipse cx="680" cy="979.5" rx="27.1" ry="15.4" stroke-width="2" fill="#fff"/>
<text x="680.4" y="985.1" fill="#000" stroke-width="0.3" text-anchor="middle">279B</text>
<ellipse cx="783.3" cy="984.7" rx="27.2" ry="15.4" stroke-width="2" fill="#fff"/>
<text x="784.5" y="991" fill="#000" stroke-width="0.3" text-anchor="middle">291A</text>
<ellipse cx="602.4" cy="1107.5" rx="27.6" ry="15.4" stroke-width="2" fill="#fff"/>
<text x="603.4" y="1113.9" fill="#000" stroke-width="0.3" text-anchor="middle">293A</text>
<ellipse cx="710" cy="1528" rx="30" ry="18" stroke-width="2" fill="#fff"/>
<text x="711.4" y="1534.9" fill="#000" stroke-width="0.3" text-anchor="middle">279C</text>
<ellipse cx="1243.9" cy="1249.4" rx="29.8" ry="17.4" stroke-width="2" fill="#fff"/>
<text x="1245" y="1255.6" fill="#000" stroke-width="0.3" text-anchor="middle">403A</text>
<ellipse cx="1306" cy="1378.5" rx="30" ry="17.3" stroke-width="2" fill="#fff"/>
<text x="1307.9" y="1384.9" fill="#000" stroke-width="0.3" text-anchor="middle">292A</text>
<ellipse cx="1178.9" cy="1448.8" rx="29.8" ry="17.7" stroke-width="2" fill="#fff"/>
<text x="1179.7" y="1455.6" fill="#000" stroke-width="0.3" text-anchor="middle">294A</text>
</g>
</g>
</svg>
</body>
</html>
